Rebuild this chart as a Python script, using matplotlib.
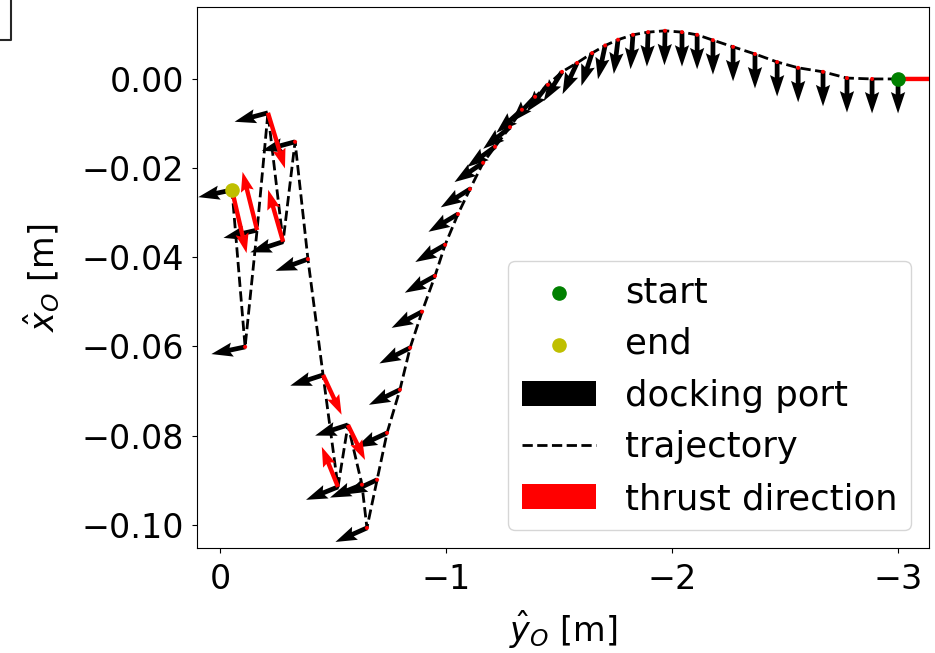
import numpy as np
import matplotlib.pyplot as plt
from matplotlib.lines import Line2D

plt.rcParams['font.size'] = 24

# trajectory points: y_O (horizontal axis) and x_O (vertical axis), metres
traj_y = [-3.000, -2.885, -2.774, -2.668, -2.558, -2.465, -2.367, -2.270, -2.181, -2.111,
          -2.044, -1.969, -1.894, -1.827, -1.761, -1.704, -1.646, -1.580, -1.513, -1.451,
          -1.394, -1.336, -1.283, -1.217, -1.164, -1.106, -1.053, -0.996, -0.951, -0.894,
          -0.841, -0.796, -0.739, -0.695, -0.650,
          -0.628, -0.566, -0.522, -0.456, -0.389, -0.332, -0.279, -0.212, -0.164, -0.111, -0.053]
traj_x = [0.0000, 0.0000, 0.0002, 0.0016, 0.0025, 0.0038, 0.0056, 0.0072, 0.0087, 0.0099,
          0.0105, 0.0108, 0.0105, 0.0099, 0.0088, 0.0075, 0.0058, 0.0036, 0.0016, -0.0013,
          -0.0040, -0.0069, -0.0108, -0.0152, -0.0188, -0.0247, -0.0303, -0.0372, -0.0442, -0.0522,
          -0.0603, -0.0697, -0.0794, -0.0899, -0.1007,
          -0.0910, -0.0776, -0.0915, -0.0664, -0.0404, -0.0141, -0.0365, -0.0076, -0.0339, -0.0601, -0.0249]

# docking port direction on the page (deg)
port_angle = [-90, -90, -90, -90, -90, -90, -90, -90, -90, -90,
              -90, -91, -92, -94, -97, -102, -108, -115, -122, -128,
              -133, -138, -141, -144, -146, -148, -149, -150, -151, -152,
              -153, -154, -155, -155, -156,
              -158, -162, -158, -162, -160, -165, -162, -165, -167, -168, -168]

# thrust magnitude (normalised) and direction on the page (deg)
thrust_mag = [1.00, 0, 0, 0, 0, 0, 0, 0, 0, 0,
              0, 0, 0, 0, 0, 0, 0, 0, 0, 0,
              0, 0, 0, 0, 0, 0, 0, 0, 0, 0,
              0, 0, 0, 0, 0,
              0, 0.65, 0.72, 0.73, 0, 0, 0.90, 0.97, 1.00, 0, 1.08]
thrust_angle = [0, 0, 0, 0, 0, 0, 0, 0, 0, 0,
                0, 0, 0, 0, 0, 0, 0, 0, 0, 0,
                0, 0, 0, 0, 0, 0, 0, 0, 0, 0,
                0, 0, 0, 0, 0,
                0, -64, 112, -65, 0, 0, 106, -73, 104, 0, -77]

ty = np.array(traj_y)
tx = np.array(traj_x)
pa = np.radians(port_angle)
tm = np.array(thrust_mag)
ta = np.radians(thrust_angle)

fig = plt.figure(figsize=(9.35, 6.53), dpi=100)
ax = fig.add_axes([0.2107, 0.1608, 0.7829, 0.8285])

h_start = ax.scatter(ty[0], tx[0], s=90, color='g', zorder=4)
h_end = ax.scatter(ty[-1], tx[-1], s=90, color='y', zorder=4)
h_port = ax.quiver(ty, tx, np.cos(pa), np.sin(pa), angles='uv', scale_units='inches',
                   scale=2.9, width=0.0065, headwidth=3, headlength=4.5,
                   headaxislength=4, color='k', zorder=1)
h_traj, = ax.plot(ty, tx, 'k--', lw=2.0, zorder=2)
h_thrust = ax.quiver(ty, tx, tm * np.cos(ta), tm * np.sin(ta), angles='uv',
                     scale_units='inches', scale=1.667, width=0.006, headwidth=3,
                     headlength=4.5, headaxislength=4, color='r', zorder=3)

ax.set_xlim(0.1018, -3.137)
ax.set_ylim(-0.1052, 0.01614)
ax.set_xticks([0, -1, -2, -3])
ax.set_yticks([0.0, -0.02, -0.04, -0.06, -0.08, -0.10])
ax.tick_params(axis='x', pad=7.5)
ax.tick_params(axis='y', pad=6)
ax.set_xlabel(r'$\hat{y}_O$ [m]', labelpad=9)
ax.set_ylabel(r'$\hat{x}_O$ [m]', labelpad=14)

ax.legend([h_start, h_end, h_port, h_traj, h_thrust],
          ['start', 'end', 'docking port', 'trajectory', 'thrust direction'],
          loc='lower right', fontsize=25.5, labelspacing=0.5, handlelength=2.1)

# corner of the neighbouring panel
fig.add_artist(Line2D([0, 11 / 935, 11 / 935], [1 - 40 / 653, 1 - 40 / 653, 1],
                      color='0.15', lw=1.5, transform=fig.transFigure))

plt.savefig('out.png', dpi=100)
